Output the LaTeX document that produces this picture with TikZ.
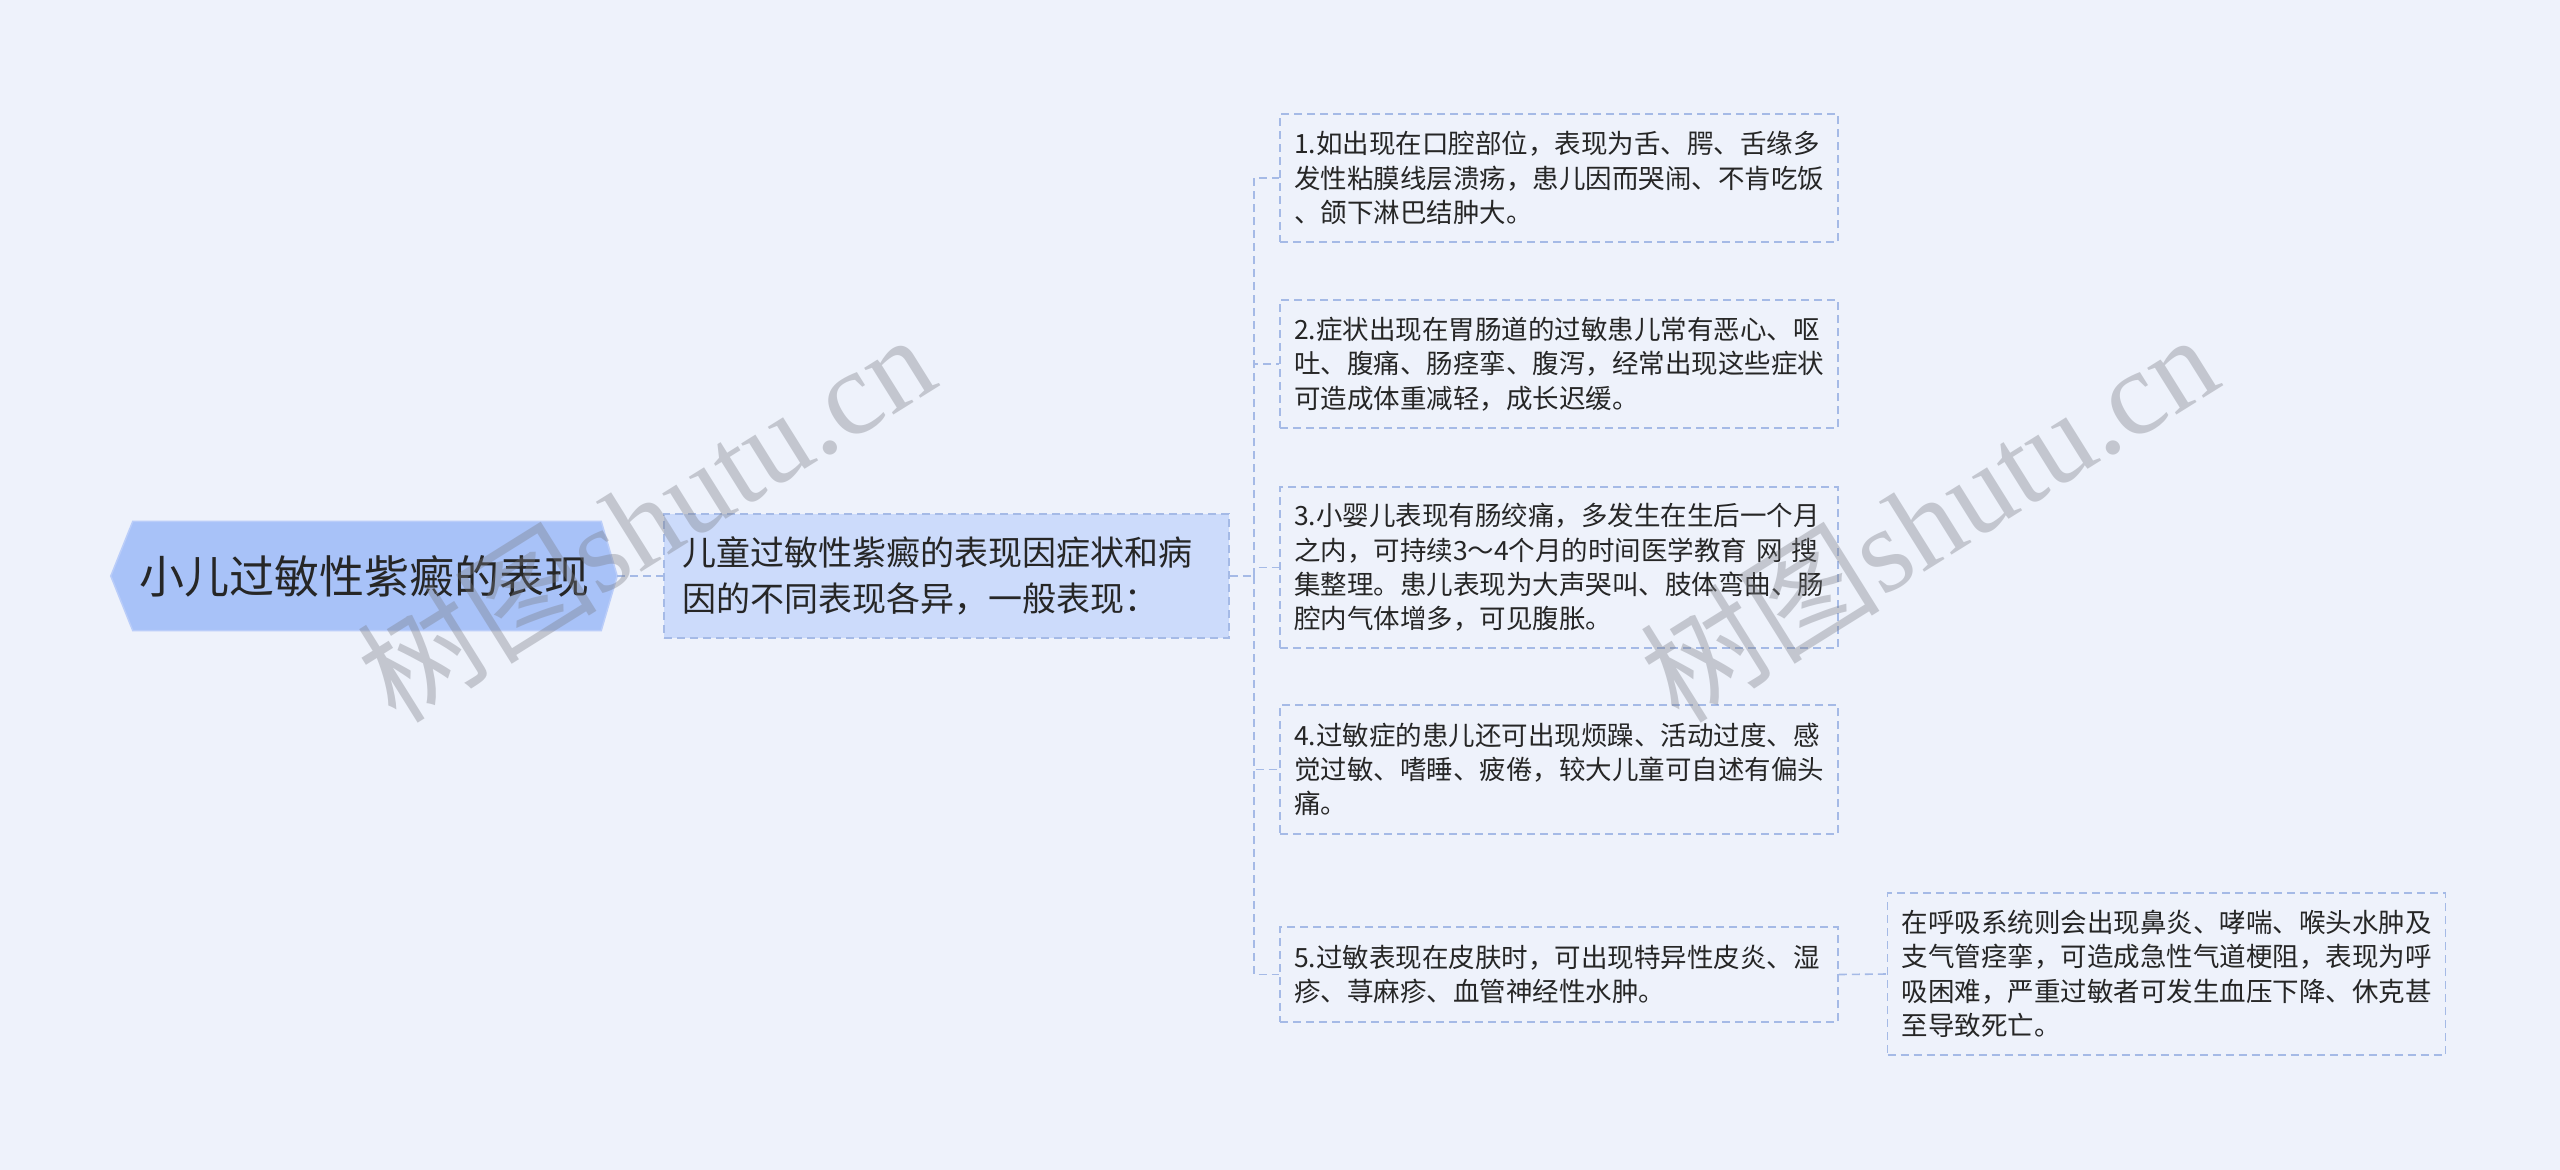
\documentclass[tikz,border=0pt]{standalone}
\usepackage{fontspec}
\newfontfamily\cjk{Noto Sans CJK SC}
\newfontfamily\wmserif{Liberation Serif}
\pgfdeclarelayer{bottom}
\pgfdeclarelayer{shapes}
\pgfsetlayers{bottom,shapes,main}
\definecolor{bgc}{RGB}{238,242,251}
\definecolor{rootc}{RGB}{168,194,248}
\definecolor{rootedge}{RGB}{186,205,249}
\definecolor{midc}{RGB}{204,219,251}
\definecolor{linec}{RGB}{165,186,230}
\definecolor{txt}{RGB}{38,38,38}
\definecolor{wm}{RGB}{120,122,130}
\begin{document}
\begin{tikzpicture}[x=1pt,y=-1pt,
  conn/.style={draw=linec,line width=1.6pt,dash pattern=on 8pt off 5pt},
  leaf/.style={draw=linec,line width=1.6pt,dash pattern=on 8pt off 5pt,fill=bgc,text=txt,
    font=\cjk\fontsize{26.5}{34.3}\selectfont,align=left,text width=530pt,
    inner xsep=14pt,inner ysep=0pt,anchor=center},
  midbox/.style={draw=linec,line width=1.6pt,dash pattern=on 8pt off 5pt,fill=midc,text=txt,
    font=\cjk\fontsize{34}{45.7}\selectfont,align=left,text width=529pt,
    inner xsep=18pt,inner ysep=0pt,minimum height=124pt,anchor=center},
  rootbox/.style={text=txt,font=\cjk\fontsize{45}{50}\selectfont,inner sep=0pt,
    minimum width=506pt,minimum height=109pt,anchor=center},
  wmark/.style={text=wm,opacity=0.36,rotate=32,anchor=center,inner sep=0pt}
]
\begin{pgfonlayer}{bottom}
\fill[bgc] (0,0) rectangle (2560,1170);
\end{pgfonlayer}
\useasboundingbox (0,0) rectangle (2560,1170);

% root
\node[rootbox] (root) at (364,576) {小儿过敏性紫癜的表现};
\begin{pgfonlayer}{shapes}
\filldraw[fill=rootc,draw=rootedge,line width=1.5pt] (root.west) -- ([xshift=22pt]root.north west) -- ([xshift=-16pt]root.north east)
  -- (root.east) -- ([xshift=-16pt]root.south east) -- ([xshift=22pt]root.south west) -- cycle;
\end{pgfonlayer}

% middle
\node[midbox] (mid) at (946.5,576) {儿童过敏性紫癜的表现因症状和病\\因的不同表现各异，一般表现：};

% leaves
\node[leaf,minimum height=128pt] (c1) at (1559,178) {1.如出现在口腔部位，表现为舌、腭、舌缘多\\发性粘膜线层溃疡，患儿因而哭闹、不肯吃饭\\、颌下淋巴结肿大。};
\node[leaf,minimum height=128pt] (c2) at (1559,364) {2.症状出现在胃肠道的过敏患儿常有恶心、呕\\吐、腹痛、肠痉挛、腹泻，经常出现这些症状\\可造成体重减轻，成长迟缓。};
\node[leaf,minimum height=161pt] (c3) at (1559,567.5) {3.小婴儿表现有肠绞痛，多发生在生后一个月\\之内，可持续3～4个月的时间医学教育 网 搜\\集整理。患儿表现为大声哭叫、肢体弯曲、肠\\腔内气体增多，可见腹胀。};
\node[leaf,minimum height=129pt] (c4) at (1559,769.5) {4.过敏症的患儿还可出现烦躁、活动过度、感\\觉过敏、嗜睡、疲倦，较大儿童可自述有偏头\\痛。};
\node[leaf,minimum height=95pt] (c5) at (1559,974.5) {5.过敏表现在皮肤时，可出现特异性皮炎、湿\\疹、荨麻疹、血管神经性水肿。};
\node[leaf,minimum height=162pt] (c6) at (2166.5,974) {在呼吸系统则会出现鼻炎、哮喘、喉头水肿及\\支气管痉挛，可造成急性气道梗阻，表现为呼\\吸困难，严重过敏者可发生血压下降、休克甚\\至导致死亡。};

% connectors
\coordinate (tr) at (1254,576);
\draw[conn] (root.east) -- (mid.west);
\draw[conn] (mid.east) -- (tr);
\foreach \c in {c1,c2,c3,c4,c5}{
  \draw[conn] (tr) |- (\c.west);
}
\draw[conn] (c5.east) -- (c6.west);

% watermarks
\node[wmark] (wm1) at (645,516) {{\cjk\fontsize{120}{126}\selectfont 树图}{\wmserif\fontsize{120}{126}\selectfont shutu.cn}};
\node[wmark] (wm2) at (1928,516) {{\cjk\fontsize{120}{126}\selectfont 树图}{\wmserif\fontsize{120}{126}\selectfont shutu.cn}};
\end{tikzpicture}
\end{document}
